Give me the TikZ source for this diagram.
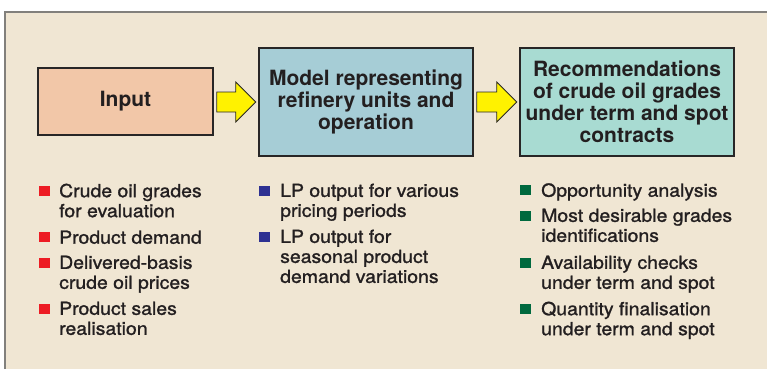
\documentclass[tikz,border=0pt]{standalone}
\usepackage{fontspec}
\setmainfont{TeX Gyre Heros}
\newfontfamily\itemfont[FakeBold=1.3,FakeStretch=1.08]{TeX Gyre Heros}
\usepackage{xcolor}
\usepackage{tikz}
\usetikzlibrary{calc}

\definecolor{paper}{RGB}{240,230,211}
\definecolor{frameline}{RGB}{130,128,124}
\definecolor{boxline}{RGB}{40,38,38}
\definecolor{ink}{RGB}{35,31,32}
\definecolor{inputfill}{RGB}{242,199,168}
\definecolor{modelfill}{RGB}{166,205,214}
\definecolor{recomfill}{RGB}{168,219,210}
\definecolor{arrowfill}{RGB}{255,242,0}
\definecolor{redsq}{RGB}{237,28,36}
\definecolor{bluesq}{RGB}{46,49,146}
\definecolor{greensq}{RGB}{0,105,62}

\begin{document}
\begin{tikzpicture}[x=1pt,y=-1pt,
	box/.style={draw=boxline,line width=1.6pt,align=center,inner sep=0pt,text=ink,
		font=\bfseries\fontsize{21}{22}\selectfont},
	fatarrow/.style={draw=boxline,fill=arrowfill,line width=0.8pt,line join=miter},
	sq/.style={anchor=south west,inner sep=0pt,minimum size=10.5pt},
	itemtext/.style={anchor=north west,inner sep=0pt,align=left,text=ink,
		font=\itemfont\fontsize{18}{20}\selectfont,execute at begin node=\strut}]
	\useasboundingbox (0,0) rectangle (767,369);
	% background panel
	\fill[paper] (5,12) rectangle (767,369);
	\draw[frameline,line width=1.2pt] (5,369) -- (5,12) -- (767,12);
	
	% the three stages
	\node[box,fill=inputfill,minimum width=175pt,minimum height=67pt] (input) at (125.5,101.5) {Input};
	\node[box,fill=modelfill,minimum width=214pt,minimum height=108pt] (model) at (366,102)
		{Model representing\\refinery units and\\operation};
	\node[box,fill=recomfill,minimum width=214pt,minimum height=108pt] (recom) at (627,102)
		{Recommendations\\of crude oil grades\\under term and spot\\contracts};
	
	\foreach \a/\b in {input/model,model/recom}{
		\draw[fatarrow] ($(\a.east |- \b.west)+(3,-10)$) -- ($(\b.west)+(-22.5,-10)$)
			-- ($(\b.west)+(-22.5,-20)$) -- ($(\b.west)+(-2.5,0)$) -- ($(\b.west)+(-22.5,20)$)
			-- ($(\b.west)+(-22.5,10)$) -- ($(\a.east |- \b.west)+(3,10)$) -- cycle;
	}
	
	% bullet lists (\y = baseline of first line)
	\foreach \y/\t [count=\i] in {197.5/{Crude oil grades\\for evaluation},243.5/{Product demand},
		269.5/{Delivered-basis\\crude oil prices},315.5/{Product sales\\realisation}}{
		\node[sq,fill=redsq] (insq\i) at (39,\y-1) {};
		\node[itemtext] (intx\i) at (59,\y-14) {\t};
	}
	\foreach \y/\t [count=\i] in {197.5/{LP output for various\\pricing periods},
		243.5/{LP output for\\seasonal product\\demand variations}}{
		\node[sq,fill=bluesq] (mosq\i) at (259,\y-1) {};
		\node[itemtext] (motx\i) at (280,\y-14) {\t};
	}
	\foreach \y/\t [count=\i] in {196.5/{Opportunity analysis},222.5/{Most desirable grades\\identifications},
		269.5/{Availability checks\\under term and spot},315.5/{Quantity finalisation\\under term and spot}}{
		\node[sq,fill=greensq] (resq\i) at (520,\y-1) {};
		\node[itemtext] (retx\i) at (541,\y-14) {\t};
	}
\end{tikzpicture}
\end{document}
